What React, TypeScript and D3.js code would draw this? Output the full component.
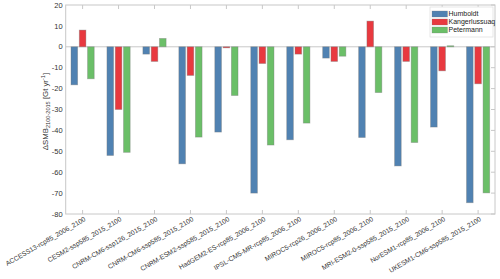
import React, { useEffect, useRef } from "react";
import * as d3 from "d3";

const models = [
  "ACCESS13-rcp85_2006_2100",
  "CESM2-ssp585_2015_2100",
  "CNRM-CM6-ssp126_2015_2100",
  "CNRM-CM6-ssp585_2015_2100",
  "CNRM-ESM2-ssp585_2015_2100",
  "HadGEM2-ES-rcp85_2006_2100",
  "IPSL-CM5-MR-rcp85_2006_2100",
  "MIROC5-rcp26_2006_2100",
  "MIROC5-rcp85_2006_2100",
  "MRI-ESM2-0-ssp585_2015_2100",
  "NorESM1-rcp85_2006_2100",
  "UKESM1-CM6-ssp585_2015_2100",
];

const glaciers = ["Humboldt", "Kangerlussuaq", "Petermann"];

const humboldt = [-18.2, -52, -3.5, -56, -40.8, -70, -44.5, -5.4, -43.4, -57, -38.4, -74.6];
const kangerlussuaq = [8, -30, -7, -13.7, -0.5, -8, -3.5, -7, 12.3, -7, -11.5, -17.7];
const petermann = [-15.3, -50.5, 4, -43.2, -23.3, -47, -36.5, -4.5, -21.9, -45.8, 0.5, -69.9];

const yTicks = [20, 10, 0, -10, -20, -30, -40, -50, -60, -70, -80];

const colors = ["#5082b2", "#e8393f", "#6bbf68"];

const App = () => {
  const svgRef = useRef(null);
  const width = 500;
  const height = 279;
  const plot = { left: 65.7, right: 495, top: 5, bottom: 214 };

  useEffect(() => {
    const svg = d3.select(svgRef.current);
    svg.selectAll("*").remove();

    const font = "Arial, 'Liberation Sans', sans-serif";
    const series = [humboldt, kangerlussuaq, petermann];

    const x = d3.scalePoint().domain(models).range([plot.left, plot.right]).padding(0.47);
    const xInner = d3.scaleBand().domain(glaciers).range([-11.6, 11.6]).paddingInner(0.2);
    const y = d3.scaleLinear().domain([-80, 20]).range([plot.bottom, plot.top]);

    const frame = "#c8c8c8";

    // zero line
    svg
      .append("line")
      .attr("x1", plot.left)
      .attr("x2", plot.right)
      .attr("y1", y(0))
      .attr("y2", y(0))
      .attr("stroke", frame)
      .attr("stroke-width", 1);

    // bars
    glaciers.forEach((g, gi) => {
      svg
        .append("g")
        .selectAll("rect")
        .data(series[gi])
        .enter()
        .append("rect")
        .attr("x", (d, i) => x(models[i]) + xInner(g))
        .attr("width", xInner.bandwidth())
        .attr("y", (d) => y(Math.max(0, d)))
        .attr("height", (d) => Math.abs(y(d) - y(0)))
        .attr("fill", colors[gi])
        .attr("stroke", "rgba(120,120,120,0.45)")
        .attr("stroke-width", 0.8);
    });

    // frame
    svg
      .append("rect")
      .attr("x", plot.left)
      .attr("y", plot.top)
      .attr("width", plot.right - plot.left)
      .attr("height", plot.bottom - plot.top)
      .attr("fill", "none")
      .attr("stroke", frame)
      .attr("stroke-width", 1);

    // x ticks top and bottom, y ticks on the right
    const ticksG = svg.append("g").attr("stroke", frame).attr("stroke-width", 1);
    models.forEach((m) => {
      ticksG.append("line").attr("x1", x(m)).attr("x2", x(m)).attr("y1", plot.bottom).attr("y2", plot.bottom - 4);
      ticksG.append("line").attr("x1", x(m)).attr("x2", x(m)).attr("y1", plot.top).attr("y2", plot.top + 4);
    });
    yTicks.forEach((t) => {
      ticksG.append("line").attr("x1", plot.right).attr("x2", plot.right - 4).attr("y1", y(t)).attr("y2", y(t));
    });

    // y tick labels
    svg
      .append("g")
      .selectAll("text")
      .data(yTicks)
      .enter()
      .append("text")
      .attr("x", plot.left - 3)
      .attr("y", (d) => y(d))
      .attr("dy", "0.35em")
      .attr("text-anchor", "end")
      .attr("font-family", font)
      .attr("font-size", 7.5)
      .attr("fill", "#333")
      .text((d) => d);

    // x tick labels
    svg
      .append("g")
      .selectAll("text")
      .data(models)
      .enter()
      .append("text")
      .attr("transform", (d) => `translate(${x(d) + 3.5},${plot.bottom + 6.5}) rotate(-30)`)
      .attr("text-anchor", "end")
      .attr("font-family", font)
      .attr("font-size", 6.7)
      .attr("fill", "#333")
      .text((d) => d);

    // y axis title
    const title = svg
      .append("text")
      .attr("transform", `translate(47.5,${(plot.top + plot.bottom) / 2 + 2}) rotate(-90)`)
      .attr("text-anchor", "middle")
      .attr("font-family", font)
      .attr("font-size", 7.8)
      .attr("fill", "#333");
    title.append("tspan").text("ΔSMB");
    title.append("tspan").attr("font-size", 5.6).attr("dy", 2).text("2100-2015");
    title.append("tspan").attr("dy", -2).text(" [Gt yr");
    title.append("tspan").attr("font-size", 5.6).attr("dy", -3).text("-1");
    title.append("tspan").attr("dy", 3).text("]");

    // legend
    const lg = svg.append("g");
    lg.append("rect")
      .attr("x", 430)
      .attr("y", 7)
      .attr("width", 63)
      .attr("height", 30)
      .attr("fill", "white")
      .attr("stroke", "#e2e2e2")
      .attr("stroke-width", 0.8);
    glaciers.forEach((g, i) => {
      const yy = 14 + i * 8;
      lg.append("rect")
        .attr("x", 432)
        .attr("y", yy - 3)
        .attr("width", 15.5)
        .attr("height", 6)
        .attr("fill", colors[i])
        .attr("stroke", "rgba(120,120,120,0.45)")
        .attr("stroke-width", 0.6);
      lg.append("text")
        .attr("x", 448.5)
        .attr("y", yy)
        .attr("dy", "0.35em")
        .attr("font-family", font)
        .attr("font-size", 7)
        .attr("fill", "#222")
        .text(g);
    });
  }, []);

  return (
    <svg
      ref={svgRef}
      width={width}
      height={height}
      style={{ position: "absolute", left: 0, top: 0, background: "white" }}
    />
  );
};

export default App;
